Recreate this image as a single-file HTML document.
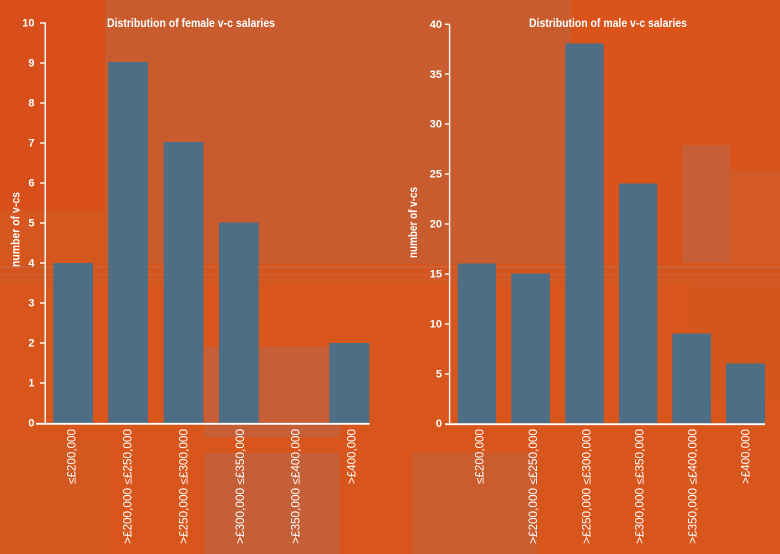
<!DOCTYPE html>
<html><head><meta charset="utf-8"><style>
html,body{margin:0;padding:0;background:#d8541d;}
svg{display:block}
</style></head><body>
<svg width="780" height="554" viewBox="0 0 780 554" xmlns="http://www.w3.org/2000/svg">
<!-- background -->
<rect x="0" y="0" width="780" height="554" fill="#d8541d"/>
<rect x="105" y="0" width="467" height="266" fill="#c85c2f"/>
<rect x="0" y="0" width="105" height="266" fill="#d94f1b"/>
<rect x="572" y="0" width="208" height="266" fill="#da531b"/>
<rect x="682" y="145" width="48" height="118" fill="#c75e36"/>
<rect x="730" y="170" width="50" height="95" fill="#d35a26"/>
<rect x="0" y="210" width="105" height="56" fill="#d5571f"/>
<!-- band -->
<rect x="0" y="264" width="780" height="22" fill="#d4561f"/>
<rect x="0" y="266" width="780" height="2" fill="#c96a48" opacity="0.6"/>
<rect x="0" y="274" width="780" height="1.5" fill="#c86a4a" opacity="0.5"/>
<rect x="0" y="279" width="780" height="1.5" fill="#ca6d4e" opacity="0.4"/>
<!-- lower -->
<rect x="0" y="286" width="780" height="268" fill="#d8551c"/>
<rect x="0" y="440" width="105" height="114" fill="#d3581f"/>
<rect x="205" y="347" width="135" height="90" fill="#c45f37"/>
<rect x="205" y="453" width="135" height="101" fill="#c45f37"/>
<rect x="412" y="452" width="125" height="102" fill="#cb5c2e"/>
<rect x="690" y="286" width="90" height="115" fill="#d4561f"/>

<g font-family="'Liberation Sans Narrow','Liberation Sans',sans-serif" fill="#ffffff">
<!-- LEFT CHART -->
<text x="107" y="27" font-size="12" font-weight="bold" textLength="168" lengthAdjust="spacingAndGlyphs">Distribution of female v-c salaries</text>
<text transform="translate(19.5,229.5) rotate(-90)" text-anchor="middle" font-size="12" font-weight="bold" textLength="75" lengthAdjust="spacingAndGlyphs">number of v-cs</text>
<g font-size="11" font-weight="bold" text-anchor="end">
<text x="34.5" y="26.5">10</text>
<text x="34.5" y="66.5">9</text>
<text x="34.5" y="106.5">8</text>
<text x="34.5" y="146.5">7</text>
<text x="34.5" y="186.5">6</text>
<text x="34.5" y="226.5">5</text>
<text x="34.5" y="266.5">4</text>
<text x="34.5" y="306.5">3</text>
<text x="34.5" y="346.5">2</text>
<text x="34.5" y="386.5">1</text>
<text x="34.5" y="426.5">0</text>
</g>
<g fill="#4d6e84">
<rect x="53.3" y="263" width="39.7" height="160.5"/>
<rect x="108.3" y="62" width="39.7" height="361.5"/>
<rect x="163.7" y="142" width="39.7" height="281.5"/>
<rect x="219" y="222.5" width="39.7" height="201"/>
<rect x="329.3" y="343" width="40" height="80.5"/>
</g>
<g stroke="#ffffff" stroke-width="1.4">
<line x1="45.2" y1="22.3" x2="45.2" y2="424"/>
<line x1="40" y1="23" x2="45" y2="23"/>
<line x1="40" y1="63" x2="45" y2="63"/>
<line x1="40" y1="103" x2="45" y2="103"/>
<line x1="40" y1="143" x2="45" y2="143"/>
<line x1="40" y1="183" x2="45" y2="183"/>
<line x1="40" y1="223" x2="45" y2="223"/>
<line x1="40" y1="263" x2="45" y2="263"/>
<line x1="40" y1="303" x2="45" y2="303"/>
<line x1="40" y1="343" x2="45" y2="343"/>
<line x1="40" y1="383" x2="45" y2="383"/>
<line x1="36" y1="423.8" x2="369.5" y2="423.8" stroke-width="1.8"/>
</g>
<g font-size="11.5">
<text transform="translate(75.5,429) rotate(-90)" text-anchor="end" textLength="55" lengthAdjust="spacingAndGlyphs">≤£200,000</text>
<text transform="translate(131.5,429) rotate(-90)" text-anchor="end" textLength="115" lengthAdjust="spacingAndGlyphs">&gt;£200,000 ≤£250,000</text>
<text transform="translate(187.5,429) rotate(-90)" text-anchor="end" textLength="115" lengthAdjust="spacingAndGlyphs">&gt;£250,000 ≤£300,000</text>
<text transform="translate(243.8,429) rotate(-90)" text-anchor="end" textLength="115" lengthAdjust="spacingAndGlyphs">&gt;£300,000 ≤£350,000</text>
<text transform="translate(299.5,429) rotate(-90)" text-anchor="end" textLength="115" lengthAdjust="spacingAndGlyphs">&gt;£350,000 ≤£400,000</text>
<text transform="translate(355.7,429) rotate(-90)" text-anchor="end" textLength="55" lengthAdjust="spacingAndGlyphs">&gt;£400,000</text>
</g>

<!-- RIGHT CHART -->
<text x="529" y="27" font-size="12" font-weight="bold" textLength="158" lengthAdjust="spacingAndGlyphs">Distribution of male v-c salaries</text>
<text transform="translate(417,222.5) rotate(-90)" text-anchor="middle" font-size="12" font-weight="bold" textLength="71" lengthAdjust="spacingAndGlyphs">number of v-cs</text>
<g font-size="11" font-weight="bold" text-anchor="end">
<text x="442" y="28">40</text>
<text x="442" y="78">35</text>
<text x="442" y="127.5">30</text>
<text x="442" y="177.5">25</text>
<text x="442" y="227.5">20</text>
<text x="442" y="277.5">15</text>
<text x="442" y="327.5">10</text>
<text x="442" y="377.5">5</text>
<text x="442" y="427">0</text>
</g>
<g fill="#4d6e84">
<rect x="457.7" y="263.5" width="38.3" height="160"/>
<rect x="511.3" y="273.5" width="38.7" height="150"/>
<rect x="565.3" y="43.5" width="38.4" height="380"/>
<rect x="619" y="183.5" width="38.3" height="240"/>
<rect x="672.3" y="333.5" width="38.7" height="90"/>
<rect x="726" y="363.5" width="39" height="60"/>
</g>
<g stroke="#ffffff" stroke-width="1.4">
<line x1="449.6" y1="24" x2="449.6" y2="424"/>
<line x1="445" y1="24.3" x2="449.5" y2="24.3"/>
<line x1="445" y1="74" x2="449.5" y2="74"/>
<line x1="445" y1="124" x2="449.5" y2="124"/>
<line x1="445" y1="174" x2="449.5" y2="174"/>
<line x1="445" y1="224" x2="449.5" y2="224"/>
<line x1="445" y1="274" x2="449.5" y2="274"/>
<line x1="445" y1="324" x2="449.5" y2="324"/>
<line x1="445" y1="374" x2="449.5" y2="374"/>
<line x1="445" y1="424.2" x2="765" y2="424.2" stroke-width="1.8"/>
</g>
<g font-size="11.5">
<text transform="translate(483.5,429) rotate(-90)" text-anchor="end" textLength="55" lengthAdjust="spacingAndGlyphs">≤£200,000</text>
<text transform="translate(536.8,429) rotate(-90)" text-anchor="end" textLength="115" lengthAdjust="spacingAndGlyphs">&gt;£200,000 ≤£250,000</text>
<text transform="translate(590.5,429) rotate(-90)" text-anchor="end" textLength="115" lengthAdjust="spacingAndGlyphs">&gt;£250,000 ≤£300,000</text>
<text transform="translate(643.5,429) rotate(-90)" text-anchor="end" textLength="115" lengthAdjust="spacingAndGlyphs">&gt;£300,000 ≤£350,000</text>
<text transform="translate(696.5,429) rotate(-90)" text-anchor="end" textLength="115" lengthAdjust="spacingAndGlyphs">&gt;£350,000 ≤£400,000</text>
<text transform="translate(749.7,429) rotate(-90)" text-anchor="end" textLength="55" lengthAdjust="spacingAndGlyphs">&gt;£400,000</text>
</g>
</g>
</svg>
</body></html>
